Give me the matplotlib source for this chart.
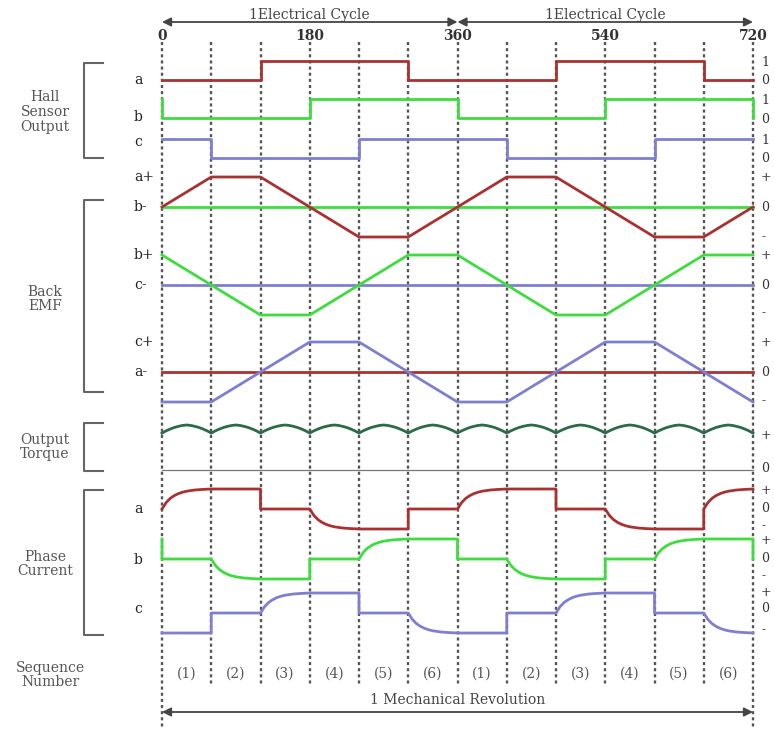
import numpy as np
import matplotlib.pyplot as plt

# --- data (12 sectors of 60 deg) ---
deg_ticks = [0, 180, 360, 540, 720]
sector_edges = np.arange(0, 721, 60)

hall_a = [0, 0, 1, 1, 1, 0, 0, 0, 1, 1, 1, 0]
hall_b = [0, 0, 0, 1, 1, 1, 0, 0, 0, 1, 1, 1]
hall_c = [1, 0, 0, 0, 1, 1, 1, 0, 0, 0, 1, 1]

emf_a = [0, 1, 1, 0, -1, -1, 0, 1, 1, 0, -1, -1, 0]
emf_b = [1, 0, -1, -1, 0, 1, 1, 0, -1, -1, 0, 1, 1]
emf_c = [-1, -1, 0, 1, 1, 0, -1, -1, 0, 1, 1, 0, -1]

# torque ripple: one arch per sector
torque_off = [0, 5, 10, 15, 20, 25, 30, 35, 40, 45, 50, 55, 60]
torque_arch = [0.82, 0.87, 0.91, 0.945, 0.97, 0.99, 1.0, 0.99, 0.97, 0.945, 0.91, 0.87, 0.82]

# phase current targets per sector, level just before 0 and at 720
cur_a = [1, 1, 0, -1, -1, 0, 1, 1, 0, -1, -1, 1]
cur_b = [0, -1, -1, 0, 1, 1, 0, -1, -1, 0, 1, 1]
cur_c = [-1, 0, 1, 1, 0, -1, -1, 0, 1, 1, 0, -1]
cur_start = {'a': 0, 'b': 1, 'c': -1}
cur_end = {'a': 1, 'b': 0, 'c': -1}
rise_off = [0, 5, 10, 15, 20, 25, 30, 40, 50, 60]
rise_frac = [0, 0.32, 0.53, 0.67, 0.77, 0.84, 0.89, 0.95, 0.98, 1.0]

seq_labels = ['(1)', '(2)', '(3)', '(4)', '(5)', '(6)'] * 2

# colours
RED = '#a83232'
GREEN = '#3fdc3f'
BLUE = '#7f7fcf'
TORQ = '#2b6b47'
GRAY = '#555555'

W, H = 774, 729
X0, X1 = 162, 753          # pixel of 0 and 720 deg
PPD = (X1 - X0) / 720.0


def px(x):
    # pixel column -> degrees (for layout only)
    return (x - X0) / PPD


def hall_xy(levels):
    xs, ys = [0], [levels[-1]]
    for i, l in enumerate(levels):
        xs += [i * 60, (i + 1) * 60]
        ys += [l, l]
    xs.append(720)
    ys.append(levels[0])
    return np.array(xs), np.array(ys)


def current_xy(targets, start, end):
    xs, ys = [0], [start]
    prev = start
    for i, t in enumerate(targets):
        x0 = i * 60
        if t == prev:
            xs.append(x0 + 60); ys.append(t)
        elif t == 0:
            xs += [x0, x0 + 60]; ys += [0, 0]
        else:
            xs.append(x0); ys.append(0)
            xs += [x0 + o for o in rise_off]
            ys += [t * f for f in rise_frac]
        prev = t
    xs.append(720); ys.append(end)
    return np.array(xs), np.array(ys)


plt.rcParams['font.family'] = ['DejaVu Serif']
fig = plt.figure(figsize=(W / 100, H / 100), dpi=100)
ax = fig.add_axes([0, 0, 1, 1])
ax.set_xlim(px(0), px(W))
ax.set_ylim(H, 0)
ax.axis('off')

# dashed sector lines
for d in sector_edges:
    yb = 729 if d in (0, 720) else 686
    ax.plot([d, d], [42, yb], color=GRAY, lw=1.7, ls=(0, (1.3, 1.3)), zorder=1)

# hall sensors
for lev, base, col in [(hall_a, 80, RED), (hall_b, 118, GREEN), (hall_c, 158, BLUE)]:
    x, y = hall_xy(lev)
    ax.plot(x, base - 19 * y, color=col, lw=2, zorder=3)

# back EMF with zero reference lines
for emf, zero, col, refcol in [(emf_a, 207, RED, GREEN), (emf_b, 285, GREEN, BLUE),
                               (emf_c, 372, BLUE, RED)]:
    ax.plot([0, 720], [zero, zero], color=refcol, lw=2, zorder=2)
    ax.plot(sector_edges, zero - 30 * np.array(emf), color=col, lw=2, zorder=3)

# torque
tx = np.concatenate([i * 60 + np.array(torque_off) for i in range(12)])
ty = np.tile(torque_arch, 12)
ax.plot(tx, 470 - 45 * ty, color=TORQ, lw=2, zorder=3)
ax.plot([0, 720], [470, 470], color='#777777', lw=0.9, zorder=2)

# phase currents
for key, tg, zero, col in [('a', cur_a, 509, RED), ('b', cur_b, 559, GREEN),
                           ('c', cur_c, 613, BLUE)]:
    x, y = current_xy(tg, cur_start[key], cur_end[key])
    ax.plot(x, zero - 20 * y, color=col, lw=2, zorder=3)

# header arrows and degree labels
for a0, a1 in [(0, 360), (360, 720)]:
    ax.annotate('', xy=(a1, 22), xytext=(a0, 22),
                arrowprops=dict(arrowstyle='<|-|>', color='#444444', lw=1.3,
                                mutation_scale=13, shrinkA=0, shrinkB=0))
    ax.text((a0 + a1) / 2, 15, '1Electrical Cycle', ha='center', va='center',
            fontsize=10, color='#444444')
for d in deg_ticks:
    ax.text(d, 36, str(d), ha='center', va='center', fontsize=10,
            fontweight='bold', color='#333333')

# bottom arrow
ax.annotate('', xy=(720, 712), xytext=(0, 712),
            arrowprops=dict(arrowstyle='<|-|>', color='#444444', lw=1.3,
                            mutation_scale=13, shrinkA=0, shrinkB=0))
ax.text(360, 700, '1 Mechanical Revolution', ha='center', va='center',
        fontsize=10, color='#444444')

# sequence numbers
for i, s in enumerate(seq_labels):
    ax.text(i * 60 + 30, 674, s, ha='center', va='center', fontsize=10, color=GRAY)

# left group labels and brackets
groups = [('Hall\nSensor\nOutput', 112, 63, 158), ('Back\nEMF', 299, 200, 392),
          ('Output\nTorque', 447, 423, 471), ('Phase\nCurrent', 564, 490, 635)]
for txt, yc, y0, y1 in groups:
    ax.text(px(45), yc, txt, ha='center', va='center', fontsize=10,
            color=GRAY, linespacing=1.05)
    ax.plot([px(103), px(84), px(84), px(103)], [y0, y0, y1, y1],
            color='#666666', lw=1.5, zorder=2)
ax.text(px(50), 675, 'Sequence\nNumber', ha='center', va='center', fontsize=10,
        color=GRAY, linespacing=1.05)

# trace names
names = [('a', 80), ('b', 117), ('c', 142), ('a+', 177), ('b-', 207), ('b+', 255),
         ('c-', 285), ('c+', 342), ('a-', 372), ('a', 509), ('b', 560), ('c', 609)]
for n, y in names:
    ax.text(px(134), y, n, ha='left', va='center', fontsize=10, color='#222222')

# right edge level labels (the reference crops them at the edge)
right = [('1', 62), ('0', 80), ('1', 100), ('0', 119), ('1', 140), ('0', 158),
         ('+', 177), ('0', 207), ('-', 237), ('+', 255), ('0', 285), ('-', 313),
         ('+', 342), ('0', 372), ('-', 401), ('+', 435), ('0', 468),
         ('+', 490), ('0', 508), ('-', 526), ('+', 540), ('0', 558), ('-', 576),
         ('+', 593), ('0', 609), ('-', 630)]
for n, y in right:
    ax.text(px(761), y, n, ha='left', va='center', fontsize=9, color='#333333')

fig.savefig('out.png', dpi=100, facecolor='white')
